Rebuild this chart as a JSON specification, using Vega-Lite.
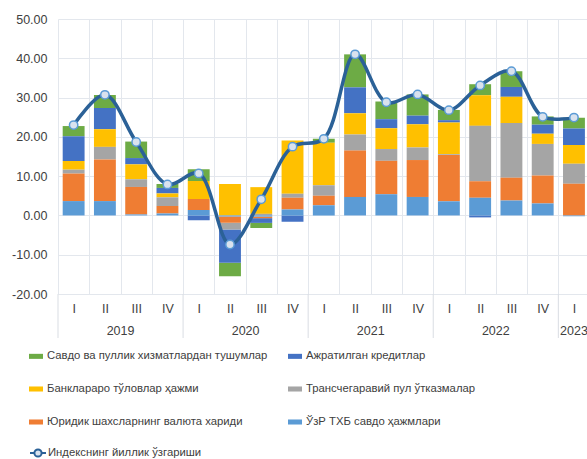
{
  "$schema": "https://vega.github.io/schema/vega-lite/v6.json",
  "autosize": {"type": "none"},
  "width": 529,
  "height": 275,
  "padding": {"left": 58, "top": 19, "right": 0, "bottom": 165},
  "background": "#ffffff",
  "config": {
    "font": "Liberation Sans",
    "view": {"stroke": null},
    "axis": {"labelFont": "Liberation Sans", "labelColor": "#404040", "labelFontSize": 12.5, "gridColor": "#e3e7ed", "gridWidth": 1, "domain": false, "ticks": false, "title": null, "labelOverlap": false},
    "legend": {"labelFont": "Liberation Sans", "labelColor": "#404040", "labelFontSize": 11.3}
  },
  "datasets": {
    "q": [
      {"period": "2019 I", "g": 2.6, "b": 6.3, "y": 2.2, "s": 1.0, "o": 7.0, "l": 3.65, "index": 23.0},
      {"period": "2019 II", "g": 3.3, "b": 5.4, "y": 4.5, "s": 3.2, "o": 10.6, "l": 3.65, "index": 30.7},
      {"period": "2019 III", "g": 4.2, "b": 1.6, "y": 3.8, "s": 1.95, "o": 7.0, "l": 0.25, "index": 18.7},
      {"period": "2019 IV", "g": 1.0, "b": 1.4, "y": 1.0, "s": 2.2, "o": 1.9, "l": 0.5, "index": 7.9},
      {"period": "2020 I", "g": 3.0, "b": -1.2, "y": 4.6, "s": 0.0, "o": 2.8, "l": 1.36, "index": 10.7},
      {"period": "2020 II", "g": -3.4, "b": -8.5, "y": 8.0, "s": -1.7, "o": -1.6, "l": -0.25, "index": -7.4},
      {"period": "2020 III", "g": -1.3, "b": -1.2, "y": 6.8, "s": 0.4, "o": -0.4, "l": -0.3, "index": 4.1},
      {"period": "2020 IV", "g": 0.0, "b": -1.6, "y": 13.6, "s": 1.0, "o": 3.0, "l": 1.5, "index": 17.5},
      {"period": "2021 I", "g": 1.0, "b": 0.0, "y": 10.8, "s": 2.7, "o": 2.4, "l": 2.6, "index": 19.5},
      {"period": "2021 II", "g": 8.4, "b": 6.6, "y": 5.4, "s": 4.1, "o": 11.8, "l": 4.7, "index": 41.0},
      {"period": "2021 III", "g": 4.5, "b": 2.3, "y": 5.3, "s": 3.0, "o": 8.5, "l": 5.4, "index": 28.8},
      {"period": "2021 IV", "g": 5.4, "b": 2.2, "y": 5.9, "s": 3.2, "o": 9.4, "l": 4.7, "index": 30.8},
      {"period": "2022 I", "g": 2.6, "b": 0.6, "y": 8.05, "s": 0.2, "o": 11.8, "l": 3.6, "index": 26.8},
      {"period": "2022 II", "g": 2.8, "b": -0.5, "y": 7.8, "s": 14.1, "o": 4.2, "l": 4.5, "index": 33.1},
      {"period": "2022 III", "g": 4.0, "b": 2.5, "y": 6.7, "s": 13.9, "o": 5.8, "l": 3.8, "index": 36.7},
      {"period": "2022 IV", "g": 2.1, "b": 2.3, "y": 2.6, "s": 8.05, "o": 7.1, "l": 3.05, "index": 25.1},
      {"period": "2023 I", "g": 2.7, "b": 4.2, "y": 4.8, "s": 5.1, "o": 8.05, "l": -0.2, "index": 24.9}
    ],
    "series": [
      {"key": "g", "name": "Савдо ва пуллик хизматлардан тушумлар", "ord": 5},
      {"key": "b", "name": "Ажратилган кредитлар", "ord": 4},
      {"key": "y", "name": "Банклараро тўловлар ҳажми", "ord": 3},
      {"key": "s", "name": "Трансчегаравий пул ўтказмалар", "ord": 2},
      {"key": "o", "name": "Юридик шахсларнинг валюта хариди", "ord": 1},
      {"key": "l", "name": "ЎзР ТХБ савдо ҳажмлари", "ord": 0}
    ],
    "years": [
      {"year": "2019", "start": "2019 I", "mid": "2019 II"},
      {"year": "2020", "start": "2020 I", "mid": "2020 II"},
      {"year": "2021", "start": "2021 I", "mid": "2021 II"},
      {"year": "2022", "start": "2022 I", "mid": "2022 II"},
      {"year": "2023", "start": "2023 I", "mid": "2023 I"}
    ]
  },
  "layer": [
    {
      "data": {"name": "q"},
      "transform": [
        {"fold": ["g", "b", "y", "s", "o", "l"], "as": ["key", "value"]},
        {"lookup": "key", "from": {"data": {"name": "series"}, "key": "key", "fields": ["name", "ord"]}}
      ],
      "mark": {"type": "bar", "width": {"band": 0.7}},
      "encoding": {
        "x": {
          "field": "period", "type": "nominal",
          "scale": {"range": [0, 531.6], "paddingInner": 0, "paddingOuter": 0},
          "axis": {"labelExpr": "split(datum.label, ' ')[1]", "labelAngle": 0, "labelPadding": 8, "tickBand": "extent", "grid": true}
        },
        "y": {
          "field": "value", "type": "quantitative", "stack": "zero",
          "scale": {"domain": [-20, 50], "nice": false, "zero": false},
          "axis": {"values": [-20, -10, 0, 10, 20, 30, 40, 50], "tickCount": 8, "labelExpr": "(datum.value < 0 ? '-' : '') + format(abs(datum.value), '.2f')", "labelPadding": 11, "grid": true}
        },
        "color": {
          "field": "name", "type": "nominal",
          "scale": {
            "domain": ["Савдо ва пуллик хизматлардан тушумлар", "Банклараро тўловлар ҳажми", "Юридик шахсларнинг валюта хариди", "Ажратилган кредитлар", "Трансчегаравий пул ўтказмалар", "ЎзР ТХБ савдо ҳажмлари"],
            "range": ["#6dab45", "#ffc000", "#ef7d33", "#4472c4", "#a5a5a5", "#5b9bd5"]
          },
          "legend": {"orient": "none", "legendX": -29, "legendY": 330, "columns": 2, "title": null, "symbolType": "M-1,-0.36H1V0.36H-1Z", "symbolSize": 196, "symbolStrokeWidth": 0, "labelOffset": 4, "rowPadding": 20, "columnPadding": 20, "padding": 0, "labelLimit": 400}
        },
        "order": {"field": "ord", "type": "quantitative"}
      }
    },
    {
      "data": {"name": "years"},
      "mark": {"type": "rule", "color": "#d9dde3", "strokeWidth": 1},
      "encoding": {
        "x": {"field": "start", "type": "nominal", "bandPosition": 0},
        "y": {"datum": -20, "type": "quantitative", "axis": {"values": [-20, -10, 0, 10, 20, 30, 40, 50], "tickCount": 8, "labelExpr": "(datum.value < 0 ? '-' : '') + format(abs(datum.value), '.2f')", "labelPadding": 11, "grid": true}},
        "y2": {"datum": -31.2}
      }
    },
    {
      "data": {"name": "years"},
      "transform": [{"filter": "datum.year != '2023'"}],
      "mark": {"type": "text", "fontSize": 12.5, "color": "#404040", "baseline": "middle"},
      "encoding": {
        "x": {"field": "mid", "type": "nominal", "bandPosition": 1},
        "y": {"datum": -29.4, "type": "quantitative", "axis": {"values": [-20, -10, 0, 10, 20, 30, 40, 50], "tickCount": 8, "labelExpr": "(datum.value < 0 ? '-' : '') + format(abs(datum.value), '.2f')", "labelPadding": 11, "grid": true}},
        "text": {"field": "year"}
      }
    },
    {
      "data": {"name": "years"},
      "transform": [{"filter": "datum.year == '2023'"}],
      "mark": {"type": "text", "fontSize": 12.5, "color": "#404040", "baseline": "middle"},
      "encoding": {
        "x": {"field": "mid", "type": "nominal", "bandPosition": 0.5},
        "y": {"datum": -29.4, "type": "quantitative", "axis": {"values": [-20, -10, 0, 10, 20, 30, 40, 50], "tickCount": 8, "labelExpr": "(datum.value < 0 ? '-' : '') + format(abs(datum.value), '.2f')", "labelPadding": 11, "grid": true}},
        "text": {"field": "year"}
      }
    },
    {
      "data": {"name": "q"},
      "mark": {"type": "line", "interpolate": "catmull-rom", "strokeWidth": 3.5},
      "encoding": {
        "x": {"field": "period", "type": "nominal"},
        "y": {"field": "index", "type": "quantitative", "axis": {"values": [-20, -10, 0, 10, 20, 30, 40, 50], "tickCount": 8, "labelExpr": "(datum.value < 0 ? '-' : '') + format(abs(datum.value), '.2f')", "labelPadding": 11, "grid": true}},
        "stroke": {
          "datum": "Индекснинг йиллик ўзгариши",
          "scale": {"range": ["#2b6197"]},
          "legend": {"orient": "none", "legendX": -29, "legendY": 425, "title": null, "symbolType": "M-1,0H-0.45M0.45,0H1M-0.45,0A0.45,0.45,0,1,1,0.45,0A0.45,0.45,0,1,1,-0.45,0Z", "symbolSize": 256, "symbolStrokeWidth": 2, "symbolFillColor": "#d9e2ee", "labelOffset": 1, "padding": 0, "labelLimit": 400}
        }
      }
    },
    {
      "data": {"name": "q"},
      "mark": {"type": "point", "filled": true, "fill": "#d9e2ee", "stroke": "#5b9bd5", "strokeWidth": 1.5, "size": 70, "opacity": 1, "shape": "circle"},
      "encoding": {
        "x": {"field": "period", "type": "nominal"},
        "y": {"field": "index", "type": "quantitative", "axis": {"values": [-20, -10, 0, 10, 20, 30, 40, 50], "tickCount": 8, "labelExpr": "(datum.value < 0 ? '-' : '') + format(abs(datum.value), '.2f')", "labelPadding": 11, "grid": true}}
      }
    }
  ]
}
